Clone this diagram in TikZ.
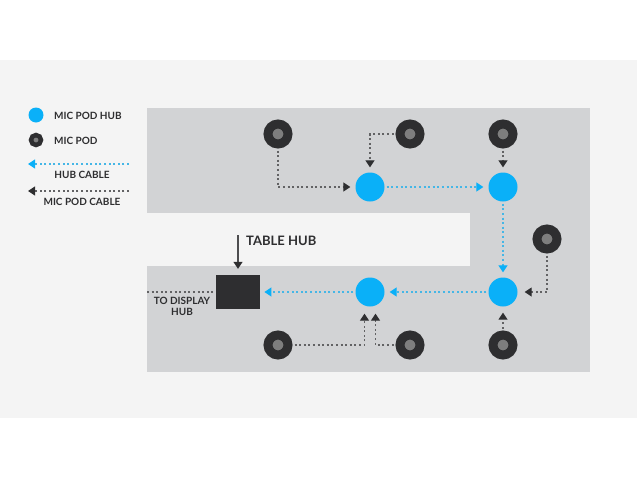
\documentclass[tikz,border=0pt]{standalone}
\usepackage{fontspec}
\usepackage{xcolor}
\usetikzlibrary{arrows.meta}
\setmainfont{Lato}
\definecolor{hubblue}{HTML}{0AB0F8}
\definecolor{cableblue}{HTML}{45B6E6}
\definecolor{poddark}{HTML}{2E2E30}
\definecolor{podgrey}{HTML}{7E7E7E}
\definecolor{roomgrey}{HTML}{D2D3D5}
\definecolor{pagegrey}{HTML}{F4F4F4}
\tikzset{
    x=1pt, y=-1pt,
    hub-dot/.style = {circle, fill=hubblue, inner sep=0pt, minimum size=29pt},
    pod-dot/.style = {circle, draw=poddark, fill=podgrey, line width=9pt, inner sep=0pt, minimum size=20pt},
    pod-cable/.style = {draw=poddark!75, line width=1.1pt, dash pattern=on 2pt off 2.6pt, -{Triangle[length=7pt,width=9pt,color=poddark,fill=poddark]}, shorten <=2pt},
    hub-cable/.style = {draw=cableblue, line width=1.1pt, dash pattern=on 2pt off 2.6pt, -{Triangle[length=7pt,width=9pt,color=hubblue,fill=hubblue]}, shorten <=2pt},
    label-text/.style = {text=poddark, font=\bfseries\fontsize{10}{11.5}\selectfont, inner sep=0pt, align=center},
}

\begin{document}
\begin{tikzpicture}
\useasboundingbox (0,0) rectangle (640,480);
\fill [white] (0,0) rectangle (640,480);
\fill [pagegrey] (0,60) rectangle (637,418);
\fill [roomgrey] (147,108) rectangle (590,372);
\fill [pagegrey] (147,213) rectangle (470,266);

% legend
\node [hub-dot, minimum size=15pt] (key-hub) at (36,115) {};
\node [pod-dot, minimum size=10pt, line width=4.5pt] (key-pod) at (36,140) {};
\node [label-text, anchor=west] (key-hub-text) at (54,115.5) {MIC POD HUB};
\node [label-text, anchor=west] (key-pod-text) at (54,140.5) {MIC POD};
\coordinate (key-hub-start) at (131,164);
\coordinate (key-hub-end) at (28,164);
\coordinate (key-pod-start) at (131,191);
\coordinate (key-pod-end) at (28,191);
\draw [hub-cable] (key-hub-start) -- (key-hub-end);
\draw [pod-cable] (key-pod-start) -- (key-pod-end);
\node [label-text] (key-hub-cable) at (82,174.5) {HUB CABLE};
\node [label-text] (key-pod-cable) at (82,201.5) {MIC POD CABLE};

% hubs
\node [hub-dot] (hub-a) at (370,187) {};
\node [hub-dot] (hub-b) at (503,187) {};
\node [hub-dot] (hub-c) at (503,292) {};
\node [hub-dot] (hub-d) at (370,292) {};

% pods
\node [pod-dot] (pod-a) at (278,134) {};
\node [pod-dot] (pod-b) at (410,134) {};
\node [pod-dot] (pod-c) at (503,134) {};
\node [pod-dot] (pod-d) at (547,239) {};
\node [pod-dot] (pod-e) at (278,345) {};
\node [pod-dot] (pod-f) at (410,345) {};
\node [pod-dot] (pod-g) at (503,345) {};

% table hub
\node [fill=poddark, minimum width=44.5pt, minimum height=34pt, inner sep=0pt] (table) at (238,292) {};
\coordinate (table-arrow) at (238,235);
\coordinate (display) at (147,292);
\draw [poddark!85, line width=1.2pt, -{Triangle[length=7pt,width=9pt,color=poddark,fill=poddark]}, shorten >=6pt] (table-arrow) -- (table.north);
\node [text=poddark, font=\bfseries\fontsize{13}{15}\selectfont, anchor=west, inner sep=0pt] (table-text) at (246,240.5) {TABLE HUB};
\draw [poddark!75, line width=1.1pt, dash pattern=on 2pt off 2.6pt] (display) -- (table.west);
\node [label-text] (display-text) at (182,306.5) {TO DISPLAY\\HUB};

% hub cables
\draw [hub-cable, shorten >=5pt] (hub-a) -- (hub-b);
\draw [hub-cable, shorten >=5pt] (hub-b) -- (hub-c);
\draw [hub-cable, shorten >=5pt] (hub-c) -- (hub-d);
\draw [hub-cable, shorten >=4pt] (hub-d) -- (table);

% pod cables
\draw [pod-cable, shorten >=5pt] (pod-a) |- (hub-a);
\draw [pod-cable, shorten >=5pt] (pod-b) -| (hub-a);
\draw [pod-cable, shorten >=5pt] (pod-c) -- (hub-b);
\draw [pod-cable, shorten >=7pt] (pod-d) |- (hub-c);
\draw [pod-cable, shorten >=6pt] (pod-g) -- (hub-c);
\draw [pod-cable, shorten >=7pt] (pod-e) -| ([xshift=-5.5pt]hub-d.south);
\draw [pod-cable, shorten >=7pt] (pod-f) -| ([xshift=5.5pt]hub-d.south);
\end{tikzpicture}
\end{document}
